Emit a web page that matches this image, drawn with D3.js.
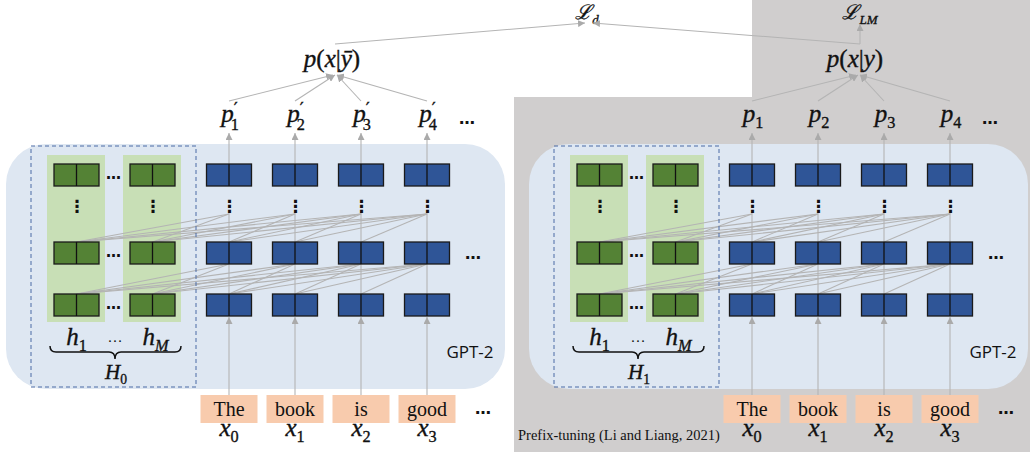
<!DOCTYPE html>
<html>
<head>
<meta charset="utf-8">
<script src="https://cdn.jsdelivr.net/npm/d3@7"></script>
<style>
  html, body { margin: 0; padding: 0; background: #fff; }
  svg { display: block; }
</style>
</head>
<body>
<div id="chart"></div>
<script>
// ---- diagram content ----
const tokens = ['The', 'book', 'is', 'good'];
const tokenSubs = ['0', '1', '2', '3'];
const outputSubs = ['1', '2', '3', '4'];
const prefixSubs = ['1', 'M'];
const layerRows = ['top', 'mid', 'low'];
const panelPrime = [true, false];
const panelCond = ['\u0233', 'y'];
const panelH = ['0', '1'];
const lossLabels = [{ base: '\u2112', sub: 'd' }, { base: '\u2112', sub: 'LM' }];
const captionText = 'Prefix-tuning (Li and Liang, 2021)';

// ---- style ----
const C = {
  grey: '#d0cece', panel: '#dee7f2', greenCol: '#c8dfb6', green: '#548235',
  blue: '#2f5597', token: '#f8cbad', line: '#b4b4b4', dash: '#4a6aa5'
};
const mathFont = '"Liberation Serif", "DejaVu Serif", serif';
const textFont = '"Liberation Serif", "Times New Roman", serif';
const W = 1030, H = 452;
const panelShift = d3.scaleOrdinal().domain([0, 1]).range([0, 523]);

const colX = d3.scaleLinear().domain([0, 3]).range([229, 427]);
const prefX = d3.scaleLinear().domain([0, 1]).range([76.5, 152.5]);
const rowY = d3.scaleOrdinal().domain(layerRows).range([164, 242, 294]);
const blockW = 45, blockH = 22;

const svg = d3.select('#chart').append('svg').attr('width', W).attr('height', H);

const defs = svg.append('defs');
defs.append('marker').attr('id', 'arr')
  .attr('viewBox', '0 0 10 10').attr('refX', 10).attr('refY', 5)
  .attr('markerWidth', 7).attr('markerHeight', 7).attr('markerUnits', 'userSpaceOnUse')
  .attr('orient', 'auto')
  .append('path').attr('d', 'M0,0 L10,5 L0,10 Z').attr('fill', '#aaa');

// grey background of prefix-tuning half
svg.append('path')
  .attr('d', 'M752,0 H1030 V452 H514 V97 H752 Z')
  .attr('fill', C.grey);

function line(g, x1, y1, x2, y2, arrow) {
  const l = g.append('line').attr('x1', x1).attr('y1', y1).attr('x2', x2).attr('y2', y2)
    .attr('stroke', C.line).attr('stroke-width', 1.1);
  if (arrow) l.attr('marker-end', 'url(#arr)');
  return l;
}

function math(g, x, y, base, sub, size, opt) {
  opt = opt || {};
  const t = g.append('text').attr('x', x).attr('y', y)
    .attr('text-anchor', 'middle').attr('font-family', mathFont)
    .attr('font-size', size).attr('fill', '#111')
    .attr('stroke', '#111').attr('stroke-width', 0.35);
  const b = t.append('tspan').attr('font-style', 'italic').text(base);
  if (opt.baseFont) b.attr('font-family', opt.baseFont);
  const subStyle = /\d/.test(sub) ? 'normal' : 'italic';
  if (opt.prime) {
    t.append('tspan').attr('font-family', '"DejaVu Sans", sans-serif')
      .attr('font-size', size * 0.7).attr('dx', 0).attr('dy', -size * 0.3).text('\u2032');
    t.append('tspan').attr('font-size', size * 0.65).attr('dx', -size * 0.28)
      .attr('dy', size * 0.6).attr('font-style', subStyle).text(sub);
  } else if (sub) {
    t.append('tspan').attr('font-size', size * 0.65).attr('dy', size * 0.25)
      .attr('font-style', subStyle).text(sub);
  }
  return t;
}

function dots(g, x, y, size) {
  g.append('text').attr('x', x).attr('y', y).attr('text-anchor', 'middle')
    .attr('font-family', '"DejaVu Sans", sans-serif').attr('font-weight', 'bold')
    .attr('font-size', size || 16).attr('fill', '#111').text('\u2026');
}

function vdots(g, x, y) {
  g.append('text').attr('x', x).attr('y', y).attr('text-anchor', 'middle')
    .attr('font-family', '"DejaVu Sans", sans-serif').attr('font-weight', 'bold')
    .attr('font-size', 17).attr('fill', '#111').text('\u22ee');
}

function block(g, cx, y, fill) {
  g.append('rect').attr('x', cx - blockW / 2).attr('y', y)
    .attr('width', blockW).attr('height', blockH)
    .attr('fill', fill).attr('stroke', '#1a1a1a').attr('stroke-width', 1.3);
  g.append('line').attr('x1', cx).attr('x2', cx).attr('y1', y).attr('y2', y + blockH)
    .attr('stroke', '#111').attr('stroke-width', 1.3);
}

[0, 1].forEach(p => {
  const g = svg.append('g').attr('transform', `translate(${panelShift(p)},0)`);
  const allX = prefixSubs.map((d, i) => prefX(i)).concat(tokens.map((d, i) => colX(i)));

  // GPT-2 body
  g.append('rect').attr('x', 6).attr('y', 144).attr('width', 499).attr('height', 245)
    .attr('rx', 40).attr('fill', C.panel);

  // prefix columns
  prefixSubs.forEach((d, i) => {
    g.append('rect').attr('x', prefX(i) - 29.5).attr('y', 155)
      .attr('width', 58).attr('height', 167).attr('fill', C.greenCol);
  });

  // cross-position attention lines
  tokens.forEach((d, i) => {
    const xi = colX(i);
    allX.forEach((xj, j) => {
      if (j < prefixSubs.length + i) {
        line(g, xi, 214, xj, rowY('mid'));
        line(g, xi, rowY('mid') + blockH, xj, rowY('low'));
      }
    });
    // vertical flow
    line(g, xi, 396, xi, rowY('low') + blockH + 1, true);
    line(g, xi, rowY('low'), xi, rowY('mid') + blockH);
    line(g, xi, rowY('mid'), xi, 212);
    line(g, xi, rowY('top'), xi, 133, true);
  });

  // blocks
  prefixSubs.forEach((d, i) => {
    layerRows.forEach(r => block(g, prefX(i), rowY(r), C.green));
    vdots(g, prefX(i) + 0.5, 212);
  });
  layerRows.forEach(r => dots(g, 113.5, rowY(r) + 15, 15));
  tokens.forEach((d, i) => {
    layerRows.forEach(r => block(g, colX(i), rowY(r), C.blue));
    vdots(g, colX(i) + 0.5, 212);
  });
  dots(g, 473, rowY('mid') + 17, 16);

  // dashed prefix box
  g.append('rect').attr('x', 31).attr('y', 146).attr('width', 165).attr('height', 241)
    .attr('fill', 'none').attr('stroke', C.dash).attr('stroke-width', 1)
    .attr('stroke-dasharray', '4,3');

  // h labels, brace, H
  prefixSubs.forEach((d, i) => math(g, prefX(i) + (i ? 3 : 0), 345, 'h', d, 25));
  g.append('text').attr('x', 115).attr('y', 342).attr('text-anchor', 'middle')
    .attr('font-family', mathFont).attr('font-size', 15).attr('fill', '#111').text('\u2026');
  g.append('path')
    .attr('d', 'M50,346 Q50,352 56,352 H109 Q115,352 115,359 Q115,352 121,352 H175 Q181,352 181,346')
    .attr('fill', 'none').attr('stroke', '#111').attr('stroke-width', 1.5);
  math(g, 116, 379, 'H', panelH[p], 21);

  g.append('text').attr('x', 470).attr('y', 358).attr('text-anchor', 'middle')
    .attr('font-family', '"Open Sans", sans-serif').attr('font-size', 17)
    .attr('fill', '#111').text('GPT-2');

  // tokens
  tokens.forEach((d, i) => {
    const cx = colX(i);
    g.append('rect').attr('x', cx - 28.5).attr('y', 395).attr('width', 57).attr('height', 28)
      .attr('fill', C.token);
    g.append('text').attr('x', cx).attr('y', 416).attr('text-anchor', 'middle')
      .attr('font-family', textFont).attr('font-size', 20)
      .attr('fill', '#111').text(d);
    math(g, cx, 436, 'x', tokenSubs[i], 25);
  });
  dots(g, 483, 414, 16);

  // outputs
  tokens.forEach((d, i) => {
    math(g, colX(i) + 1, 122, 'p', outputSubs[i], 25, { prime: panelPrime[p] });
    line(g, colX(i), 101, 333 + Math.min(i, 2) * 2, 75, true);
  });
  dots(g, 467, 124, 16);

  // p(x|y)
  const pt = g.append('text').attr('x', 332).attr('y', 67).attr('text-anchor', 'middle')
    .attr('font-family', mathFont).attr('font-size', 25).attr('fill', '#111')
    .attr('stroke', '#111').attr('stroke-width', 0.35);
  pt.append('tspan').attr('font-style', 'italic').text('p');
  pt.append('tspan').text('(');
  pt.append('tspan').attr('font-style', 'italic').text('x');
  pt.append('tspan').text('|');
  pt.append('tspan').attr('font-style', 'italic').text(panelCond[p]);
  pt.append('tspan').text(')');
});

// losses
const lossX = [587, 860];
lossLabels.forEach((d, i) => math(svg, lossX[i], 19, d.base, d.sub, 20,
  { baseFont: '"DejaVu Serif", serif' }));
line(svg, 335, 44, 585, 23, true);
line(svg, 860, 44, 593, 23, true);
line(svg, 860, 44, 860, 24, true);

svg.append('text').attr('x', 518).attr('y', 440)
  .attr('font-family', textFont).attr('font-size', 14.5)
  .attr('fill', '#111').text(captionText);
</script>
</body>
</html>
